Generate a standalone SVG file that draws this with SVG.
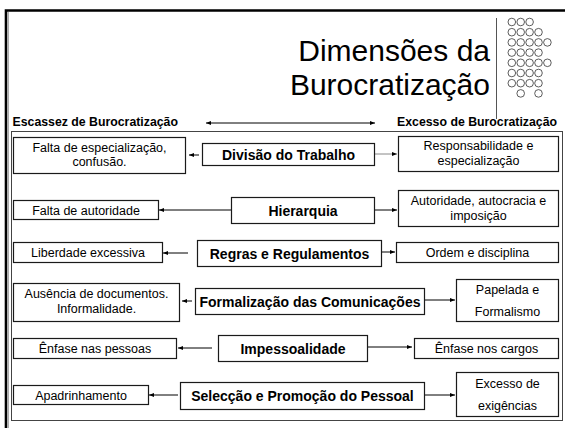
<svg xmlns="http://www.w3.org/2000/svg" width="565" height="428" viewBox="0 0 565 428">
<defs>
<style>
.t{font-family:"Liberation Sans",Arial,sans-serif;font-size:12.5px;fill:#000;text-anchor:middle}
.b{font-family:"Liberation Sans",Arial,sans-serif;font-size:14px;font-weight:bold;fill:#000;text-anchor:middle}
.h{font-family:"Liberation Sans",Arial,sans-serif;font-size:12.3px;font-weight:bold;fill:#000}
.ti{font-family:"Liberation Sans",Arial,sans-serif;font-size:30px;fill:#000;text-anchor:end}
.box{fill:#fff;stroke:#1a1a1a;stroke-width:1.2}
.ln{stroke:#000;stroke-width:1;fill:none}
.c{fill:none;stroke:#333;stroke-width:0.8}
</style>
<marker id="ah" markerUnits="userSpaceOnUse" markerWidth="5" markerHeight="4" refX="5" refY="2" orient="auto">
<path d="M0,0 L5,2 L0,4 z" fill="#000"/>
</marker>
<marker id="as" markerUnits="userSpaceOnUse" markerWidth="5" markerHeight="4" refX="0" refY="2" orient="auto">
<path d="M5,0 L0,2 L5,4 z" fill="#000"/>
</marker>
</defs>
<rect width="565" height="428" fill="#fff"/>
<g id="frame">
<path d="M6,428 V10.5 H565" fill="none" stroke="#000" stroke-width="2.6"/>
<line x1="8.3" y1="12" x2="8.3" y2="428" stroke="#999" stroke-width="1"/>
<rect x="11.5" y="131.5" width="551" height="289" fill="none" stroke="#444" stroke-width="1"/>
<line x1="496.5" y1="18" x2="496.5" y2="119" stroke="#555" stroke-width="1"/>
</g>
<g id="title">
<text class="ti" x="490" y="61">Dimensões da</text>
<text class="ti" x="490" y="94.5">Burocratização</text>
</g>
<g id="dots">
<circle class="c" cx="511.8" cy="22" r="3.8"/><circle class="c" cx="520.7" cy="22" r="3.8"/><circle class="c" cx="529.6" cy="22" r="3.8"/>
<circle class="c" cx="511.8" cy="32.2" r="3.8"/><circle class="c" cx="520.7" cy="32.2" r="3.8"/><circle class="c" cx="529.6" cy="32.2" r="3.8"/><circle class="c" cx="538.5" cy="32.2" r="3.8"/>
<circle class="c" cx="511.8" cy="42.4" r="3.8"/><circle class="c" cx="520.7" cy="42.4" r="3.8"/><circle class="c" cx="529.6" cy="42.4" r="3.8"/><circle class="c" cx="538.5" cy="42.4" r="3.8"/><circle class="c" cx="547.4" cy="42.4" r="3.8"/>
<circle class="c" cx="511.8" cy="52.6" r="3.8"/><circle class="c" cx="520.7" cy="52.6" r="3.8"/><circle class="c" cx="529.6" cy="52.6" r="3.8"/><circle class="c" cx="538.5" cy="52.6" r="3.8"/>
<circle class="c" cx="511.8" cy="62.8" r="3.8"/><circle class="c" cx="520.7" cy="62.8" r="3.8"/><circle class="c" cx="529.6" cy="62.8" r="3.8"/><circle class="c" cx="538.5" cy="62.8" r="3.8"/><circle class="c" cx="547.4" cy="62.8" r="3.8"/>
<circle class="c" cx="511.8" cy="73" r="3.8"/><circle class="c" cx="520.7" cy="73" r="3.8"/><circle class="c" cx="529.6" cy="73" r="3.8"/><circle class="c" cx="538.5" cy="73" r="3.8"/>
<circle class="c" cx="511.8" cy="83.2" r="3.8"/><circle class="c" cx="520.7" cy="83.2" r="3.8"/><circle class="c" cx="529.6" cy="83.2" r="3.8"/><circle class="c" cx="538.5" cy="83.2" r="3.8"/>
<circle class="c" cx="520.7" cy="93.4" r="3.8"/><circle class="c" cx="538.5" cy="93.4" r="3.8"/>
</g>
<g id="header">
<text class="h" x="12.5" y="126">Escassez de Burocratização</text>
<text class="h" x="557" y="126" text-anchor="end">Excesso de Burocratização</text>
</g>
<g id="connectors">
<line class="ln" x1="206" y1="123" x2="375" y2="123" marker-start="url(#as)" marker-end="url(#ah)"/>
<line class="ln" x1="199" y1="155" x2="189" y2="155" marker-end="url(#ah)"/>
<line x1="375" y1="154" x2="397" y2="154" stroke="#888" stroke-width="1" marker-end="url(#ah)"/>
<line class="ln" x1="231" y1="210" x2="159" y2="210" marker-end="url(#ah)"/>
<line class="ln" x1="375" y1="210" x2="397" y2="210" marker-end="url(#ah)"/>
<line class="ln" x1="188" y1="253" x2="163" y2="253" marker-end="url(#ah)"/>
<line class="ln" x1="382" y1="252" x2="395" y2="252" marker-end="url(#ah)"/>
<line class="ln" x1="192" y1="301" x2="182" y2="301" marker-end="url(#ah)"/>
<line class="ln" x1="425" y1="300" x2="455" y2="300" marker-end="url(#ah)"/>
<line class="ln" x1="212" y1="348" x2="178" y2="348" marker-end="url(#ah)"/>
<line class="ln" x1="368" y1="347" x2="412" y2="347" marker-end="url(#ah)"/>
<line class="ln" x1="178" y1="395" x2="149" y2="395" marker-end="url(#ah)"/>
<line class="ln" x1="425" y1="395" x2="455" y2="395" marker-end="url(#ah)"/>
</g>
<g id="row1-left"><rect class="box" x="13.5" y="137.5" width="172" height="36"/><text class="t" x="99.5" y="152">Falta de especialização,</text><text class="t" x="99.5" y="166">confusão.</text></g>
<g id="row1-center"><rect class="box" x="202.5" y="143.5" width="172" height="22"/><text class="b" x="288.5" y="159.5">Divisão do Trabalho</text></g>
<g id="row1-right"><rect class="box" x="398.5" y="136.5" width="160" height="35"/><text class="t" x="478.5" y="150">Responsabilidade e</text><text class="t" x="478.5" y="165">especialização</text></g>
<g id="row2-left"><rect class="box" x="13.5" y="200.5" width="145" height="19"/><text class="t" x="86" y="214.5">Falta de autoridade</text></g>
<g id="row2-center"><rect class="box" x="231.5" y="197.5" width="143" height="26"/><text class="b" x="303" y="215.5">Hierarquia</text></g>
<g id="row2-right"><rect class="box" x="398.5" y="190.5" width="160" height="36"/><text class="t" x="478.5" y="204.5">Autoridade, autocracia e</text><text class="t" x="478.5" y="219.5">imposição</text></g>
<g id="row3-left"><rect class="box" x="13.5" y="242.5" width="149" height="20"/><text class="t" x="88" y="257">Liberdade excessiva</text></g>
<g id="row3-center"><rect class="box" x="197.5" y="240.5" width="184" height="26"/><text class="b" x="289.5" y="258.5">Regras e Regulamentos</text></g>
<g id="row3-right"><rect class="box" x="396.5" y="242.5" width="162" height="20"/><text class="t" x="477.5" y="257">Ordem e disciplina</text></g>
<g id="row4-left"><rect class="box" x="13.5" y="283.5" width="166" height="38"/><text class="t" x="96.5" y="298">Ausência de documentos.</text><text class="t" x="96.5" y="313">Informalidade.</text></g>
<g id="row4-center"><rect class="box" x="195.5" y="288.5" width="229" height="26"/><text class="b" x="310" y="306.5">Formalização das Comunicações</text></g>
<g id="row4-right"><rect class="box" x="456.5" y="279.5" width="102" height="42"/><text class="t" x="507.5" y="294">Papelada e</text><text class="t" x="507.5" y="316">Formalismo</text></g>
<g id="row5-left"><rect class="box" x="13.5" y="338.5" width="163" height="20"/><text class="t" x="95" y="353">Ênfase nas pessoas</text></g>
<g id="row5-center"><rect class="box" x="218.5" y="335.5" width="149" height="26"/><text class="b" x="293" y="353.5">Impessoalidade</text></g>
<g id="row5-right"><rect class="box" x="414.5" y="338.5" width="144" height="20"/><text class="t" x="486.5" y="353">Ênfase nos cargos</text></g>
<g id="row6-left"><rect class="box" x="13.5" y="385.5" width="135" height="19"/><text class="t" x="81" y="399.5">Apadrinhamento</text></g>
<g id="row6-center"><rect class="box" x="180.5" y="382.5" width="244" height="27"/><text class="b" x="302.5" y="401">Selecção e Promoção do Pessoal</text></g>
<g id="row6-right"><rect class="box" x="456.5" y="372.5" width="102" height="44"/><text class="t" x="507.5" y="388">Excesso de</text><text class="t" x="507.5" y="410">exigências</text></g>
</svg>
